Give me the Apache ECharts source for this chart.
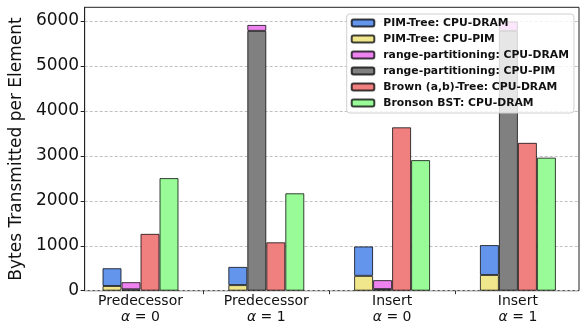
<!DOCTYPE html>
<html><head><meta charset="utf-8">
<script src="https://cdn.jsdelivr.net/npm/echarts@6/dist/echarts.min.js"></script>
<style>html,body{margin:0;padding:0;background:#fff}#c{width:581px;height:326px}</style>
</head><body><div id="c"></div>
<script>
const operations = ['Predecessor', 'Predecessor', 'Insert', 'Insert'];
const alphas = ['0', '1', '0', '1'];
const categories = operations.map((o, i) => o + '\nα = ' + alphas[i]);
const yTicks = [0, 1000, 2000, 3000, 4000, 5000, 6000];

const pimCpuPim = [105, 125, 330, 350];
const pimCpuDram = [395, 405, 655, 665];
const rpCpuPim = [30, 5780, 35, 5780];
const rpCpuDram = [160, 133, 200, 210];
const brownCpuDram = [1265, 1077, 3635, 3290];
const bronsonCpuDram = [2505, 2167, 2905, 2960];

const FONT = 'DejaVu Sans';
const YMAX = 6305;
const edge = 'rgba(0,0,0,0.75)';

function bar(name, data, color, stack) {
  const s = {
    name, type: 'bar', data, xAxisIndex: 1, yAxisIndex: 1,
    barWidth: 19, barGap: '0%',
    itemStyle: { color, borderColor: edge, borderWidth: 1 },
    emphasis: { disabled: true }
  };
  if (stack) s.stack = stack;
  return s;
}

const chart = echarts.init(document.getElementById('c'), null, { renderer: 'canvas' });
chart.setOption({
  animation: false,
  backgroundColor: '#fff',
  grid: [
    { left: 80, right: 2, top: 7.3, bottom: 35.3, show: true, borderColor: '#222', borderWidth: 1, backgroundColor: 'transparent' },
    { left: 77.6, right: 0.2, top: 7.3, bottom: 35.3 }
  ],
  xAxis: [
    { type: 'category', gridIndex: 0, data: categories, show: false },
    {
      type: 'category', gridIndex: 1, data: categories,
      axisLine: { show: false },
      axisTick: { show: true, length: 3.5, interval: (i) => i !== 0, lineStyle: { color: '#333', width: 1 } },
      axisLabel: {
        interval: 0,
        margin: 3, fontFamily: FONT, fontSize: 14, color: '#111', lineHeight: 15.5,
        formatter: (v) => {
          const [a, b] = v.split('\n');
          return '{t|' + a + '}\n{i|α}{t|' + b.slice(1) + '}';
        },
        rich: {
          t: { fontFamily: FONT, fontSize: 14, color: '#111', lineHeight: 15.5 },
          i: { fontFamily: FONT, fontSize: 14, fontStyle: 'italic', color: '#111', lineHeight: 15.5 }
        }
      }
    }
  ],
  yAxis: [
    {
      type: 'value', gridIndex: 0, min: 0, max: YMAX, interval: 1000,
      name: 'Bytes Transmitted per Element', nameLocation: 'middle', nameGap: 51,
      nameTextStyle: { fontFamily: FONT, fontSize: 17, color: '#111' },
      axisLine: { show: true, lineStyle: { color: '#222', width: 1 } },
      axisTick: { show: true, length: 4, customValues: yTicks, lineStyle: { color: '#222' } },
      axisLabel: {
        margin: 5.5, fontFamily: FONT, fontSize: 17, color: '#111', customValues: yTicks,
        formatter: (v) => (v % 1000 === 0 ? String(v) : '')
      },
      splitLine: { show: true, lineStyle: { color: '#c0c0c0', width: 1, type: [3, 2] } }
    },
    { type: 'value', gridIndex: 1, min: 0, max: YMAX, show: false, splitLine: { show: false } }
  ],
  legend: {
    orient: 'vertical', left: 346.7, top: 14,
    padding: [3, 5, 4, 4], itemGap: 4, itemWidth: 22.6, itemHeight: 7,
    backgroundColor: 'rgba(255,255,255,0.8)', borderColor: '#d0d0d0', borderWidth: 1, borderRadius: 3,
    textStyle: { fontFamily: FONT, fontWeight: 'bold', fontSize: 10.8, color: '#111', lineHeight: 12, padding: [0, 0, 0, 4] },
    data: [
      'PIM-Tree: CPU-DRAM', 'PIM-Tree: CPU-PIM',
      'range-partitioning: CPU-DRAM', 'range-partitioning: CPU-PIM',
      'Brown (a,b)-Tree: CPU-DRAM', 'Bronson BST: CPU-DRAM'
    ],
    selectedMode: false
  },
  series: [
    bar('PIM-Tree: CPU-PIM', pimCpuPim, '#F0E68C', 'pim'),
    bar('PIM-Tree: CPU-DRAM', pimCpuDram, '#6495ED', 'pim'),
    bar('range-partitioning: CPU-PIM', rpCpuPim, '#808080', 'rp'),
    bar('range-partitioning: CPU-DRAM', rpCpuDram, '#EE82EE', 'rp'),
    bar('Brown (a,b)-Tree: CPU-DRAM', brownCpuDram, '#F08080'),
    bar('Bronson BST: CPU-DRAM', bronsonCpuDram, '#98FB98')
  ]
});
</script></body></html>
